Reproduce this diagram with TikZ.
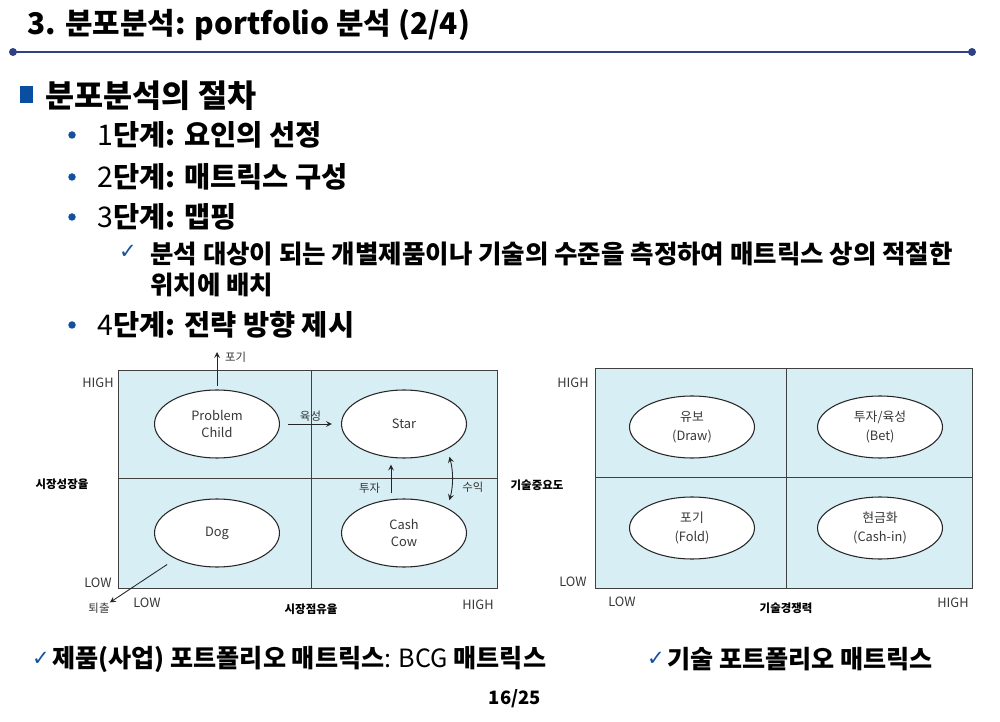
\documentclass[tikz,border=0pt]{standalone}
\usepackage{fontspec}
\setmainfont{Noto Sans CJK KR}
\newfontfamily\symfont{DejaVu Sans}
\usetikzlibrary{shapes.geometric, arrows, positioning}

\definecolor{navyline}{RGB}{46,64,134}
\definecolor{bulletblue}{RGB}{20,80,160}
\definecolor{boxblue}{RGB}{10,78,162}
\definecolor{cellfill}{RGB}{214,238,244}
\definecolor{labelgray}{RGB}{55,55,55}

\begin{document}
\begin{tikzpicture}[x=0.02cm, y=-0.02cm]
\tikzstyle{title} = [anchor=west, inner sep=0pt, font=\fontsize{17}{20}\selectfont\bfseries]
\tikzstyle{heading} = [anchor=west, inner sep=0pt, font=\fontsize{18}{21}\selectfont\bfseries]
\tikzstyle{stepitem} = [anchor=west, inner sep=0pt, font=\fontsize{16.2}{19}\selectfont\bfseries]
\tikzstyle{subitem} = [anchor=west, inner sep=0pt, align=left, font=\fontsize{14.5}{17.6}\selectfont\bfseries]
\tikzstyle{caption} = [anchor=west, inner sep=0pt, font=\fontsize{14.3}{17}\selectfont\bfseries]
\tikzstyle{checkmark} = [inner sep=0pt, text=bulletblue, font=\symfont\fontsize{12}{14}\selectfont]
\tikzstyle{matrixbox} = [fill=cellfill, draw=black!75, line width=0.5pt]
\tikzstyle{cell} = [ellipse, draw=black!85, fill=white, line width=0.6pt, minimum width=2.5cm, minimum height=1.36cm, align=center, text=labelgray, font=\fontsize{7.3}{9.6}\selectfont]
\tikzstyle{techcell} = [cell, minimum height=1.24cm, font=\fontsize{7.3}{10.8}\selectfont]
\tikzstyle{axislabel} = [text=labelgray, inner sep=0pt, font=\fontsize{7.3}{8}\selectfont]
\tikzstyle{axistitle} = [inner sep=0pt, font=\fontsize{6.5}{8}\selectfont\bfseries]
\tikzstyle{movelabel} = [text=labelgray, inner sep=1pt, font=\fontsize{6.5}{8}\selectfont]
\tikzstyle{arrow} = [->, >=stealth, black!85, line width=0.5pt]
\tikzstyle{dblarrow} = [<->, >=stealth, black!85, line width=0.5pt]

\useasboundingbox (0,0) rectangle (1000,722);

\node (title) [title] at (27,25) {3. 분포분석: portfolio 분석 (2/4)};
\draw [navyline, line width=1.7pt] (13,52) -- (972,52);
\fill [navyline] (13,52) circle (0.08cm);
\fill [navyline] (972,52) circle (0.08cm);

\fill [boxblue] (20,86) rectangle (33,103);
\node (procedure) [heading] at (45,96) {분포분석의 절차};

\fill [bulletblue] (72,135) circle (0.075cm);
\fill [bulletblue] (72,177) circle (0.075cm);
\fill [bulletblue] (72,217) circle (0.075cm);
\fill [bulletblue] (72,325) circle (0.075cm);
\node (step1) [stepitem] at (97,135) {{\mdseries 1}단계: 요인의 선정};
\node (step2) [stepitem] at (97,177) {{\mdseries 2}단계: 매트릭스 구성};
\node (step3) [stepitem] at (97,217) {{\mdseries 3}단계: 맵핑};
\node (mapcheck) [checkmark] at (128,252) {✓};
\node (mapdesc) [subitem] at (150,269.5) {분석 대상이 되는 개별제품이나 기술의 수준을 측정하여 매트릭스 상의 적절한\\위치에 배치};
\node (step4) [stepitem] at (97,325) {{\mdseries 4}단계: 전략 방향 제시};

\draw [matrixbox] (118,370) rectangle (497,588);
\draw [black!75, line width=0.5pt] (311,370) -- (311,588);
\draw [black!75, line width=0.5pt] (118,478) -- (497,478);
\node (problem) [cell] at (217,424) {Problem\\Child};
\node (star) [cell] at (404,424) {Star};
\node (dog) [cell] at (217,533) {Dog};
\node (cow) [cell] at (404,533) {Cash\\Cow};

\coordinate (giveup) at (217,352);
\node (giveuplbl) [movelabel, anchor=west] at (223,357) {포기};
\draw [arrow, shorten <=2pt] (problem.north) -- (giveup);
\draw [arrow, shorten <=0.16cm, shorten >=0.18cm] (problem.east) -- node[movelabel, above] {육성} (star.west);
\draw [arrow, shorten <=0.1cm, shorten >=0.12cm] ([xshift=-0.26cm]cow.north) -- node[movelabel, pos=0.25, left=5pt] {투자} ([xshift=-0.26cm]star.south);
\draw [dblarrow, shorten <=0.16cm, shorten >=0.16cm] (star.-30) to[out=-75, in=75] node[movelabel, pos=0.65, right=5pt] {수익} (cow.30);
\node (exitlbl) [movelabel, inner sep=0pt] at (99,608) {퇴출};
\draw [arrow, shorten <=0.2cm] (dog.212) -- (exitlbl.north east);

\node (bcghigh) [axislabel] at (98,383) {HIGH};
\node (bcglow) [axislabel] at (98,583) {LOW};
\node (bcgyaxis) [axistitle] at (62,484) {시장성장율};
\node (bcgxlow) [axislabel] at (147,603) {LOW};
\node (bcgxaxis) [axistitle] at (311,609) {시장점유율};
\node (bcgxhigh) [axislabel] at (478,605) {HIGH};

\draw [matrixbox] (595,368) rectangle (972,588);
\draw [black!75, line width=0.5pt] (786,368) -- (786,588);
\draw [black!75, line width=0.5pt] (595,477) -- (972,477);
\node (hold) [techcell] at (692,427) {유보\\(Draw)};
\node (bet) [techcell] at (880,427) {투자/육성\\(Bet)};
\node (fold) [techcell] at (692,528) {포기\\(Fold)};
\node (cashin) [techcell] at (880,528) {현금화\\(Cash-in)};

\node (techhigh) [axislabel] at (573,383) {HIGH};
\node (techlow) [axislabel] at (573,582) {LOW};
\node (techyaxis) [axistitle] at (537,485) {기술중요도};
\node (techxlow) [axislabel] at (622,602) {LOW};
\node (techxaxis) [axistitle] at (786,608) {기술경쟁력};
\node (techxhigh) [axislabel] at (953,603) {HIGH};

\node (bcgcheck) [checkmark] at (41,659) {✓};
\node (bcgcaption) [caption, right=1pt of bcgcheck] {제품(사업) 포트폴리오 매트릭스{\mdseries: BCG} 매트릭스};
\node (techcheck) [checkmark] at (656,659) {✓};
\node (techcaption) [caption, right=1pt of techcheck] {기술 포트폴리오 매트릭스};
\node (pagenum) [inner sep=0pt, font=\fontsize{10.5}{12}\selectfont\bfseries] at (515,699) {16/25};
\end{tikzpicture}
\end{document}
